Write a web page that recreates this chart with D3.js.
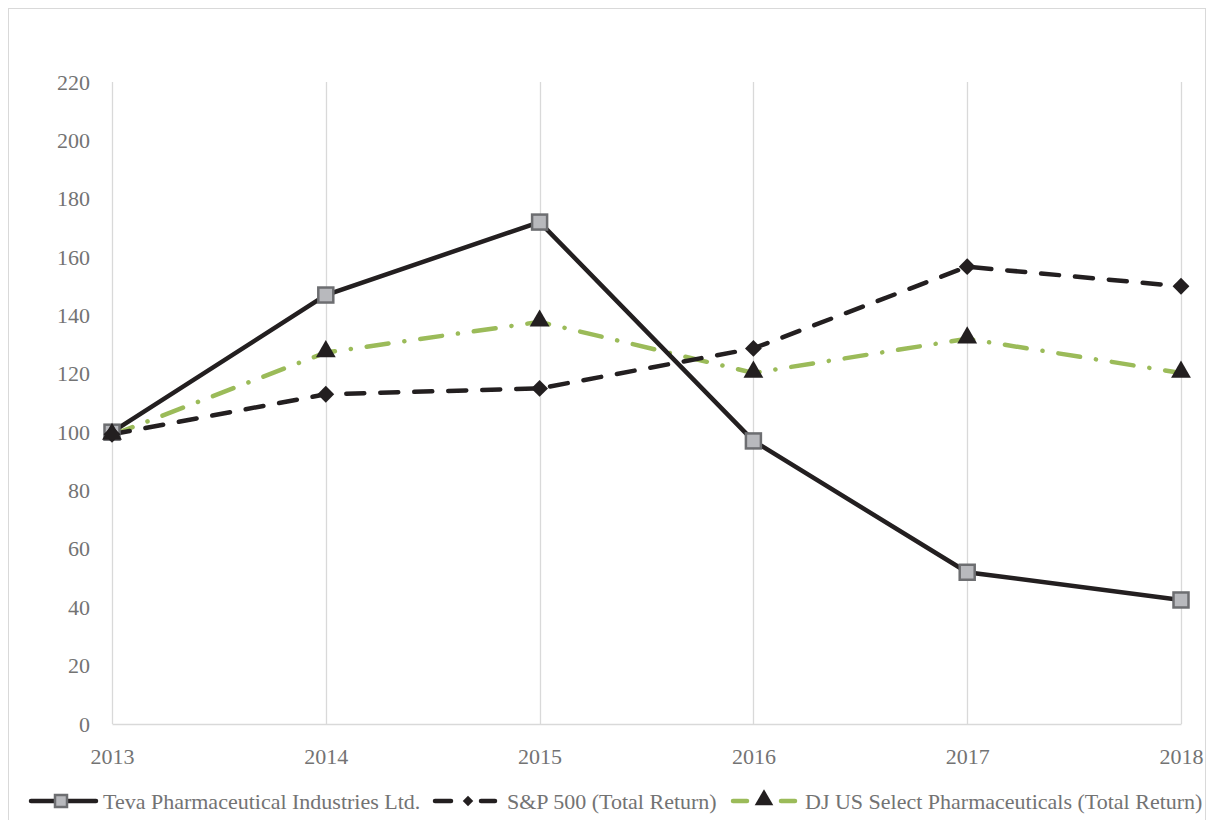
<!DOCTYPE html>
<html>
<head>
<meta charset="utf-8">
<script src="https://cdn.jsdelivr.net/npm/d3@7"></script>
<style>
    body { margin: 0; background: #fff; }
</style>
</head>
<body>
<div id="chart"></div>
<script>
var years = [2013, 2014, 2015, 2016, 2017, 2018];
var tevaValues = [100, 147, 172, 97, 52, 42.5];
var spValues = [99.3, 113, 115, 128.7, 156.7, 150];
var djValues = [99, 127.3, 137.8, 120.3, 132, 120.3];
var yTicks = [0, 20, 40, 60, 80, 100, 120, 140, 160, 180, 200, 220];
var seriesNames = ["Teva Pharmaceutical Industries Ltd.", "S&P 500 (Total Return)", "DJ US Select Pharmaceuticals (Total Return)"];

var fontFamily = "'Liberation Serif', 'Times New Roman', 'DejaVu Serif', serif";
var textColor = "#737373";

var svgWidth = 1206;
var svgHeight = 820;

var margin = { top: 82, right: 25, bottom: 96, left: 112 };
var width = svgWidth - margin.left - margin.right;
var height = svgHeight - margin.top - margin.bottom;

var svg = d3.select("#chart")
    .append("svg")
    .attr("width", svgWidth)
    .attr("height", svgHeight)
    .attr("font-family", fontFamily);

// outer frame
svg.append("rect")
    .attr("x", 8.5)
    .attr("y", 8.5)
    .attr("width", svgWidth - 9)
    .attr("height", svgHeight)
    .attr("fill", "none")
    .attr("stroke", "#d9d9d9")
    .attr("stroke-width", 1);

var chartGroup = svg.append("g")
    .attr("transform", `translate(${margin.left}, ${margin.top})`);

var x = d3.scalePoint()
    .domain(years)
    .range([0, width]);

var y = d3.scaleLinear()
    .domain([0, 220])
    .range([height, 0]);

// vertical gridlines
chartGroup.selectAll(".vgrid")
    .data(years)
    .enter()
    .append("line")
    .attr("class", "vgrid")
    .attr("x1", d => Math.round(x(d)) + 0.5)
    .attr("x2", d => Math.round(x(d)) + 0.5)
    .attr("y1", 0)
    .attr("y2", height)
    .attr("stroke", "#d9d9d9")
    .attr("stroke-width", 1.3);

// x axis
var bottomAxis = d3.axisBottom(x).tickSize(0).tickPadding(24);
var xAxisG = chartGroup.append("g")
    .attr("transform", `translate(0, ${height})`)
    .call(bottomAxis)
    .attr("font-family", fontFamily)
    .attr("font-size", 22);
xAxisG.select(".domain").attr("stroke", "#d9d9d9").attr("stroke-width", 1.3);
xAxisG.selectAll("text").attr("fill", textColor);

// y axis
var leftAxis = d3.axisLeft(y).tickValues(yTicks).tickSize(0).tickPadding(22);
var yAxisG = chartGroup.append("g")
    .call(leftAxis)
    .attr("font-family", fontFamily)
    .attr("font-size", 22);
yAxisG.select(".domain").remove();
yAxisG.selectAll("text").attr("fill", textColor);

var line = d3.line()
    .x((d, i) => x(years[i]))
    .y(d => y(d));

// DJ line
chartGroup.append("path")
    .datum(djValues)
    .attr("d", line)
    .attr("fill", "none")
    .attr("stroke", "#9bbb59")
    .attr("stroke-width", 4.5)
    .attr("stroke-linecap", "round")
    .attr("stroke-dasharray", "22,16,0.1,16");

// S&P line
chartGroup.append("path")
    .datum(spValues)
    .attr("d", line)
    .attr("fill", "none")
    .attr("stroke", "#231f20")
    .attr("stroke-width", 4.5)
    .attr("stroke-linecap", "round")
    .attr("stroke-dasharray", "18,16");

// Teva line
chartGroup.append("path")
    .datum(tevaValues)
    .attr("d", line)
    .attr("fill", "none")
    .attr("stroke", "#231f20")
    .attr("stroke-width", 4.5);

// markers
var sq = 15;
chartGroup.selectAll(".teva")
    .data(tevaValues)
    .enter()
    .append("rect")
    .attr("class", "teva")
    .attr("x", (d, i) => x(years[i]) - sq / 2)
    .attr("y", d => y(d) - sq / 2)
    .attr("width", sq)
    .attr("height", sq)
    .attr("fill", "#b8b9bd")
    .attr("stroke", "#6d6e71")
    .attr("stroke-width", 2.5);

var diamond = d3.symbol().type(d3.symbolDiamond2).size(180);
chartGroup.selectAll(".sp")
    .data(spValues)
    .enter()
    .append("path")
    .attr("class", "sp")
    .attr("d", diamond)
    .attr("transform", (d, i) => `translate(${x(years[i])}, ${y(d)})`)
    .attr("fill", "#231f20");

var tri = d3.symbol().type(d3.symbolTriangle).size(170);
chartGroup.selectAll(".dj")
    .data(djValues)
    .enter()
    .append("path")
    .attr("class", "dj")
    .attr("d", tri)
    .attr("transform", (d, i) => `translate(${x(years[i])}, ${y(d) - 1})`)
    .attr("fill", "#231f20");

// legend
var legendY = 801;
var legend = svg.append("g")
    .attr("font-family", fontFamily)
    .attr("font-size", 22)
    .attr("fill", textColor);

// Teva
legend.append("line")
    .attr("x1", 31).attr("x2", 96).attr("y1", legendY).attr("y2", legendY)
    .attr("stroke", "#231f20").attr("stroke-width", 4.5).attr("stroke-linecap", "round");
legend.append("rect")
    .attr("x", 55).attr("y", legendY - 6).attr("width", 12).attr("height", 12)
    .attr("fill", "#b8b9bd").attr("stroke", "#6d6e71").attr("stroke-width", 2.5);
legend.append("text")
    .attr("x", 103).attr("y", legendY + 8)
    .text(seriesNames[0]);

// S&P
legend.append("line")
    .attr("x1", 435).attr("x2", 451).attr("y1", legendY).attr("y2", legendY)
    .attr("stroke", "#231f20").attr("stroke-width", 4.5).attr("stroke-linecap", "round");
legend.append("line")
    .attr("x1", 481).attr("x2", 495).attr("y1", legendY).attr("y2", legendY)
    .attr("stroke", "#231f20").attr("stroke-width", 4.5).attr("stroke-linecap", "round");
legend.append("path")
    .attr("d", d3.symbol().type(d3.symbolDiamond2).size(70))
    .attr("transform", `translate(468, ${legendY})`)
    .attr("fill", "#231f20");
legend.append("text")
    .attr("x", 507).attr("y", legendY + 8)
    .text(seriesNames[1]);

// DJ
legend.append("line")
    .attr("x1", 733).attr("x2", 747).attr("y1", legendY).attr("y2", legendY)
    .attr("stroke", "#9bbb59").attr("stroke-width", 4.5).attr("stroke-linecap", "round");
legend.append("line")
    .attr("x1", 781).attr("x2", 795).attr("y1", legendY).attr("y2", legendY)
    .attr("stroke", "#9bbb59").attr("stroke-width", 4.5).attr("stroke-linecap", "round");
legend.append("path")
    .attr("d", d3.symbol().type(d3.symbolTriangle).size(150))
    .attr("transform", `translate(764, ${legendY - 1})`)
    .attr("fill", "#231f20");
legend.append("text")
    .attr("x", 805).attr("y", legendY + 8)
    .text(seriesNames[2]);
</script>
</body>
</html>
